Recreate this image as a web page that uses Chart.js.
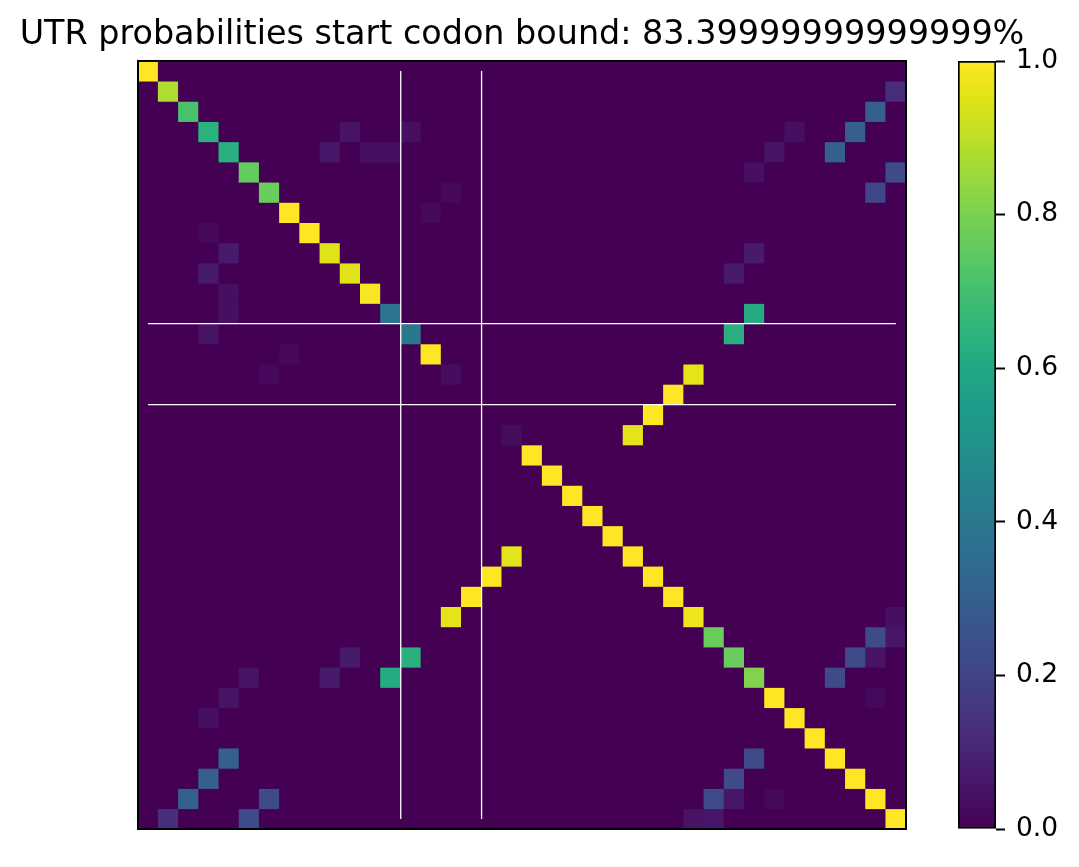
<!DOCTYPE html>
<html>
<head>
<meta charset="utf-8">
<script src="https://cdn.jsdelivr.net/npm/chart.js@4.4.1/dist/chart.umd.min.js"></script>
<style>
  html, body { margin: 0; padding: 0; background: #fff; }
  #wrap { position: relative; width: 1079px; height: 867px; overflow: hidden; }
  #heat { position: absolute; left: 0; top: 0; }
  #cbar { position: absolute; left: 940px; top: 0; }
</style>
</head>
<body>
<div id="wrap">
  <canvas id="heat" width="1044" height="867"></canvas>
  <canvas id="cbar" width="139" height="867"></canvas>
</div>
<script>
const N = 38;
const chartTitle = 'UTR probabilities start codon bound: 83.39999999999999%';

// non-zero cells (everything else is 0)
const cellRows = [
  0, 1, 1, 2, 2, 3, 3, 3, 3, 3, 4, 4, 4, 4, 4, 4, 5, 5, 5, 6, 6, 6, 7, 7, 8, 8,
  9, 9, 9, 10, 10, 10, 11, 11, 12, 12, 12, 13, 13, 13, 14, 14, 15, 15, 15, 16, 17,
  18, 18, 19, 20, 21, 22, 23, 24, 24, 25, 25, 26, 26, 27, 27, 27,
  28, 28, 28, 29, 29, 29, 29, 29, 30, 30, 30, 30, 30, 31, 31, 31, 32, 32, 33,
  34, 34, 34, 35, 35, 35, 36, 36, 36, 36, 36, 36, 37, 37, 37, 37, 37
];
const cellCols = [
  0, 1, 37, 2, 36, 3, 10, 13, 32, 35, 4, 9, 11, 12, 31, 34, 5, 30, 37, 6, 15, 36, 7, 14, 8, 3,
  9, 4, 30, 10, 3, 29, 11, 4, 12, 4, 30, 13, 3, 29, 14, 7, 27, 15, 6, 26, 25,
  24, 18, 19, 20, 21, 22, 23, 24, 18, 25, 17, 26, 16, 27, 15, 37,
  28, 36, 37, 29, 35, 36, 10, 13, 30, 34, 5, 9, 12, 31, 36, 4, 32, 3, 33,
  34, 30, 4, 35, 29, 3, 36, 28, 29, 31, 2, 6, 37, 27, 28, 1, 5
];
const cellVals = [
  1.0, 0.88, 0.13, 0.71, 0.30, 0.64, 0.05, 0.04, 0.04, 0.30, 0.63, 0.06, 0.04, 0.04, 0.05, 0.30,
  0.76, 0.04, 0.22, 0.77, 0.02, 0.21, 1.0, 0.02, 1.0, 0.02,
  0.95, 0.07, 0.07, 0.95, 0.07, 0.07, 0.99, 0.04, 0.39, 0.04, 0.61, 0.40, 0.05, 0.63,
  1.0, 0.02, 0.96, 0.03, 0.02, 1.0, 1.0,
  0.96, 0.03, 1.0, 1.0, 1.0, 1.0, 1.0, 1.0, 0.96, 1.0, 1.0, 1.0, 1.0, 0.98, 0.96, 0.04,
  0.77, 0.22, 0.06, 0.77, 0.22, 0.05, 0.07, 0.63, 0.81, 0.22, 0.05, 0.07, 0.61, 1.0, 0.02, 0.05,
  1.0, 0.04, 1.0,
  1.0, 0.22, 0.30, 1.0, 0.22, 0.30, 1.0, 0.22, 0.06, 0.02, 0.30, 0.22, 1.0, 0.05, 0.06, 0.13, 0.22
];

// white guide lines sit on these cell boundaries
const splitAt = [13, 17];
const cbarTicks = [0.0, 0.2, 0.4, 0.6, 0.8, 1.0];

const VIRIDIS = [
  '#440154', '#471365', '#482475', '#463480', '#414487', '#3b528b', '#355f8d',
  '#2f6c8e', '#2a788e', '#25848e', '#21918c', '#1e9c89', '#22a884', '#2fb47c',
  '#44bf70', '#5ec962', '#7ad151', '#9bd93c', '#bddf26', '#dfe318', '#fde725'
];

function hexRgb(h) {
  const n = parseInt(h.slice(1), 16);
  return [(n >> 16) & 255, (n >> 8) & 255, n & 255];
}

function viridis(t) {
  t = Math.min(1, Math.max(0, t));
  const p = t * (VIRIDIS.length - 1);
  const i = Math.min(Math.floor(p), VIRIDIS.length - 2);
  const f = p - i;
  const a = hexRgb(VIRIDIS[i]), b = hexRgb(VIRIDIS[i + 1]);
  const c = a.map((v, k) => Math.round(v + (b[k] - v) * f));
  return `rgb(${c[0]}, ${c[1]}, ${c[2]})`;
}

const grid = Array.from({ length: N }, () => new Array(N).fill(0));
cellRows.forEach((r, i) => { grid[r][cellCols[i]] = cellVals[i]; });

const FONT = 'DejaVu Sans';

// fills the plot with the zero colour and puts the black frame round it
const framePlugin = {
  id: 'frame',
  beforeDatasetsDraw(chart) {
    const { ctx, chartArea: a } = chart;
    ctx.save();
    ctx.fillStyle = viridis(0);
    ctx.fillRect(a.left, a.top, a.width, a.height);
    ctx.restore();
  },
  afterDraw(chart) {
    const { ctx, chartArea: a } = chart;
    ctx.save();
    ctx.strokeStyle = '#000';
    ctx.lineWidth = 2;
    ctx.strokeRect(a.left, a.top, a.width, a.height);
    ctx.restore();
  }
};

const rowSets = grid.map((row, r) => ({
  type: 'bar',
  data: row.map((v, c) => ({ x: c + 0.5, y: [r, r + 1], v })),
  backgroundColor: ctx => viridis(ctx.raw ? ctx.raw.v : 0),
  borderWidth: 0,
  grouped: false,
  barPercentage: 1,
  categoryPercentage: 1,
  order: 1
}));

const lineStyle = {
  type: 'line',
  borderColor: '#ffffff',
  borderWidth: 1.3,
  pointRadius: 0,
  fill: false,
  order: 0
};
const guideSets = [];
splitAt.forEach(k => {
  guideSets.push({ ...lineStyle, data: [{ x: k, y: 0.5 }, { x: k, y: N - 0.5 }] });
  guideSets.push({ ...lineStyle, data: [{ x: 0.5, y: k }, { x: N - 0.5, y: k }] });
});

new Chart(document.getElementById('heat'), {
  type: 'bar',
  data: { datasets: [...guideSets, ...rowSets] },
  options: {
    responsive: false,
    animation: false,
    layout: { padding: { top: 0, bottom: 38, left: 0, right: 0 } },
    plugins: {
      legend: { display: false },
      tooltip: { enabled: false },
      title: {
        display: true,
        text: chartTitle,
        color: '#000',
        font: { family: FONT, size: 33.4, weight: 'normal' },
        padding: { top: 15, bottom: 5.9 }
      }
    },
    scales: {
      x: { type: 'linear', min: 0, max: N, offset: false, display: false },
      y: {
        type: 'linear', min: 0, max: N, reverse: true, position: 'left',
        ticks: { display: false }, grid: { display: false }, border: { display: false },
        afterFit: s => { s.width = 138; }
      },
      yRight: {
        type: 'linear', position: 'right',
        ticks: { display: false }, grid: { display: false }, border: { display: false },
        afterFit: s => { s.width = 138; }
      }
    }
  },
  plugins: [framePlugin]
});

// colour bar
new Chart(document.getElementById('cbar'), {
  type: 'bar',
  data: {
    labels: [''],
    datasets: [{
      data: [[0, 1]],
      backgroundColor(ctx) {
        const a = ctx.chart.chartArea;
        if (!a) return viridis(0.5);
        const g = ctx.chart.ctx.createLinearGradient(0, a.bottom, 0, a.top);
        VIRIDIS.forEach((c, i) => g.addColorStop(i / (VIRIDIS.length - 1), c));
        return g;
      },
      borderColor: '#000',
      borderWidth: 2,
      borderSkipped: false,
      barPercentage: 1,
      categoryPercentage: 1
    }]
  },
  options: {
    responsive: false,
    animation: false,
    layout: { padding: { left: 18, top: 61, bottom: 38, right: 0 } },
    plugins: { legend: { display: false }, tooltip: { enabled: false } },
    scales: {
      x: { display: false },
      y: {
        position: 'right', min: 0, max: 1,
        afterBuildTicks: s => { s.ticks = cbarTicks.map(v => ({ value: v })); },
        ticks: {
          callback: v => Number(v).toFixed(1),
          color: '#000',
          font: { family: FONT, size: 26.5 },
          padding: 11
        },
        grid: { drawOnChartArea: false, drawTicks: true, tickLength: 9, tickWidth: 2, tickColor: '#000' },
        border: { display: false },
        afterFit: s => { s.width = 83; }
      }
    }
  }
});
</script>
</body>
</html>
